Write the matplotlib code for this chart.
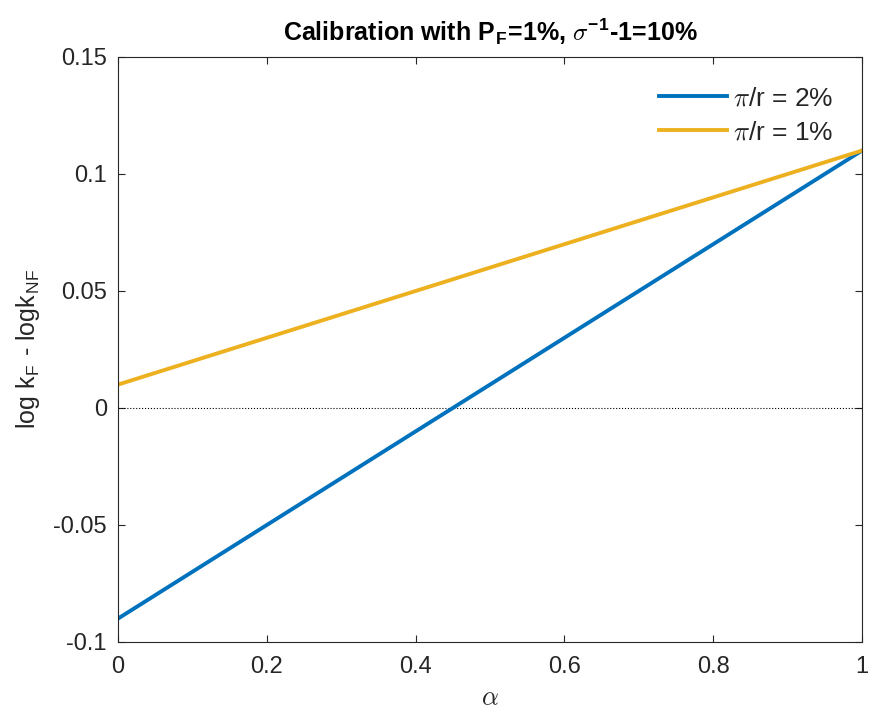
import matplotlib
matplotlib.use("Agg")
import matplotlib.pyplot as plt

alpha = [0.0, 0.2, 0.4, 0.6, 0.8, 1.0]
pi_r_2 = [-0.09, -0.05, -0.01, 0.03, 0.07, 0.11]
pi_r_1 = [0.01, 0.03, 0.05, 0.07, 0.09, 0.11]
xticks = [0, 0.2, 0.4, 0.6, 0.8, 1]
yticks = [-0.1, -0.05, 0, 0.05, 0.1, 0.15]
yticklabels = ["-0.1", "-0.05", "0", "0.05", "0.1", "0.15"]
xticklabels = ["0", "0.2", "0.4", "0.6", "0.8", "1"]

plt.rcParams['font.family'] = ['Liberation Sans', 'DejaVu Sans']
plt.rcParams['mathtext.fontset'] = 'cm'

fig = plt.figure(figsize=(8.7, 7.15), dpi=100)
ax = fig.add_axes([118/870, 1-642/715, (862-118)/870, (642-57)/715])

ax.axhline(0, color='black', linestyle=':', linewidth=0.8)
ax.plot(alpha, pi_r_2, color='#0072BD', linewidth=2.8, label=r'$\pi$/r = 2%')
ax.plot(alpha, pi_r_1, color='#EDB120', linewidth=2.8, label=r'$\pi$/r = 1%')

ax.set_xlim(0, 1)
ax.set_ylim(-0.1, 0.15)
ax.set_xticks(xticks)
ax.set_xticklabels(xticklabels)
ax.set_yticks(yticks)
ax.set_yticklabels(yticklabels)
ax.tick_params(direction='in', top=True, right=True, labelsize=17, colors='#262626', length=5)
ax.tick_params(axis='x', pad=10)
ax.tick_params(axis='y', pad=8)
for s in ax.spines.values():
    s.set_color('#262626')
    s.set_linewidth(0.8)

ax.set_xlabel(r'$\alpha$', fontsize=19, color='#262626', labelpad=6)
ax.set_ylabel(r'log k$_\mathregular{F}$ - logk$_\mathregular{NF}$', fontsize=18, color='#262626', labelpad=8)
ax.set_title(r'Calibration with P$_\mathregular{F}$=1%, $\sigma^{\mathregular{-1}}$-1=10%', fontsize=18, fontweight='bold', pad=12)

leg = ax.legend(loc='upper right', frameon=False, fontsize=19, handlelength=2.6, handletextpad=0.2,
                borderaxespad=0.7, labelspacing=0.4, borderpad=0.4)
for t in leg.get_texts():
    t.set_color('#262626')

fig.savefig('out.png', dpi=100)
